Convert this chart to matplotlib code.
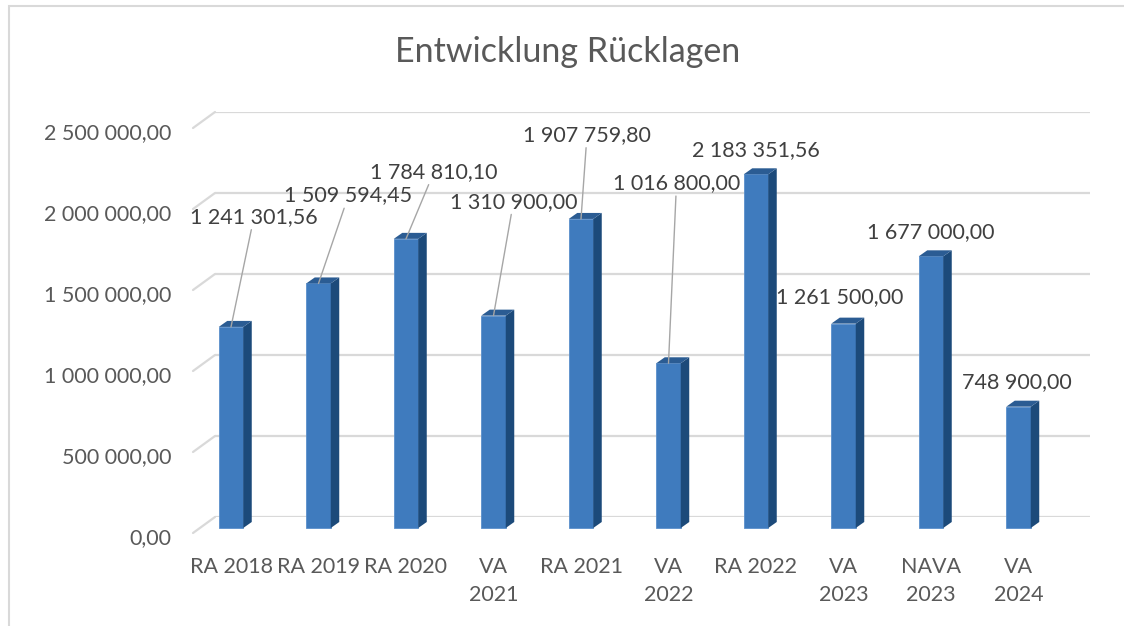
import numpy as np
import matplotlib.pyplot as plt
from matplotlib.patches import Polygon, Rectangle
from matplotlib.transforms import ScaledTranslation, blended_transform_factory

categories = ['RA 2018', 'RA 2019', 'RA 2020', 'VA\n2021', 'RA 2021',
              'VA\n2022', 'RA 2022', 'VA\n2023', 'NAVA\n2023', 'VA\n2024']
values = [1241301.56, 1509594.45, 1784810.10, 1310900.00, 1907759.80,
          1016800.00, 2183351.56, 1261500.00, 1677000.00, 748900.00]
y_ticks = [0, 500000, 1000000, 1500000, 2000000, 2500000]

# label offsets in pixels (dx, dy) from the bar top, as placed in the original
label_offsets = [(23, 110), (30, 88), (28, 67), (20, 114), (6, 84),
                 (8, 180), (0, 24), (-4, 27), (0, 24), (-2, 25)]
leader = [True, True, True, True, True, True, False, False, False, False]


def fmt(v):
    return f"{v:,.2f}".replace(",", " ").replace(".", ",")


plt.rcParams['font.family'] = ['Lato', 'DejaVu Sans']

fig = plt.figure(figsize=(11.24, 6.26), dpi=100)
W, H = 1124, 626
ax = fig.add_axes([215 / W, (H - 517) / H, 875 / W, 405 / H])
ax.set_xlim(-0.5, 9.5)
ax.set_ylim(0, 2500000)

# chart border
fig.patches.append(Rectangle((9 / W, -0.05), 1.1, 1 - 6 / H + 0.05,
                             transform=fig.transFigure, fill=False,
                             edgecolor='#d9d9d9', linewidth=1.5))

# back wall gridlines
ax.set_yticks(y_ticks)
ax.set_yticklabels([fmt(v) for v in y_ticks])
ax.grid(axis='y', color='#d9d9d9', linewidth=1.6)
ax.set_axisbelow(True)
for s in ax.spines.values():
    s.set_visible(False)

# floor / side wall diagonals
blend = blended_transform_factory(ax.transAxes, ax.transData)
for v in y_ticks:
    ax.annotate('', xy=(0, v), xycoords=blend,
                xytext=(-22 * 0.72, -16 * 0.72), textcoords='offset points',
                arrowprops=dict(arrowstyle='-', color='#d9d9d9', lw=1.6,
                                shrinkA=0, shrinkB=0))

# front of the bars sits in front of the back wall
front = ax.transData + ScaledTranslation(-27.75 / 100, -11 / 100, fig.dpi_scale_trans)
x = np.arange(len(categories))
w = 0.28
ddx = 8.5 / 87.5
ddy = 6 / 405 * 2500000

ax.bar(x, values, width=w, color='#3f7bbe', edgecolor='#5a8fcb', linewidth=0.6,
       transform=front, clip_on=False, zorder=3)
for xi, v in zip(x, values):
    side = Polygon([(xi + w / 2, 0), (xi + w / 2 + ddx, ddy),
                    (xi + w / 2 + ddx, v + ddy), (xi + w / 2, v)],
                   closed=True, facecolor='#1c4a7a', edgecolor='none',
                   transform=front, clip_on=False, zorder=3)
    top = Polygon([(xi - w / 2, v), (xi + w / 2, v),
                   (xi + w / 2 + ddx, v + ddy), (xi - w / 2 + ddx, v + ddy)],
                  closed=True, facecolor='#2b5c93', edgecolor='none',
                  transform=front, clip_on=False, zorder=3)
    ax.add_patch(side)
    ax.add_patch(top)

# data labels
for xi, v, (dx, dy), ld in zip(x, values, label_offsets, leader):
    props = None
    if ld:
        props = dict(arrowstyle='-', color='#a6a6a6', lw=1.0, shrinkA=0, shrinkB=0)
    ax.annotate(fmt(v), xy=(xi, v), xycoords=front,
                xytext=(dx * 0.72, dy * 0.72), textcoords='offset points',
                ha='center', va='center', fontsize=15.5, color='#404040',
                arrowprops=props, zorder=4, annotation_clip=False)

# ticks
ax.set_xticks(x)
ax.set_xticklabels(categories, linespacing=1.5)
ax.tick_params(axis='both', length=0, labelsize=15.5, labelcolor='#595959')
ax.tick_params(axis='y', pad=44 * 0.72)
ax.tick_params(axis='x', pad=29)
for lab in ax.get_yticklabels():
    lab.set_transform(lab.get_transform() + ScaledTranslation(0, -19 / 100, fig.dpi_scale_trans))
for lab in ax.get_xticklabels():
    lab.set_transform(lab.get_transform() + ScaledTranslation(-27.75 / 100, 0, fig.dpi_scale_trans))

fig.text(568 / W, 1 - 52 / H, 'Entwicklung Rücklagen', ha='center', va='center',
         fontsize=24.5, color='#595959')

plt.savefig('out.png', dpi=100)
